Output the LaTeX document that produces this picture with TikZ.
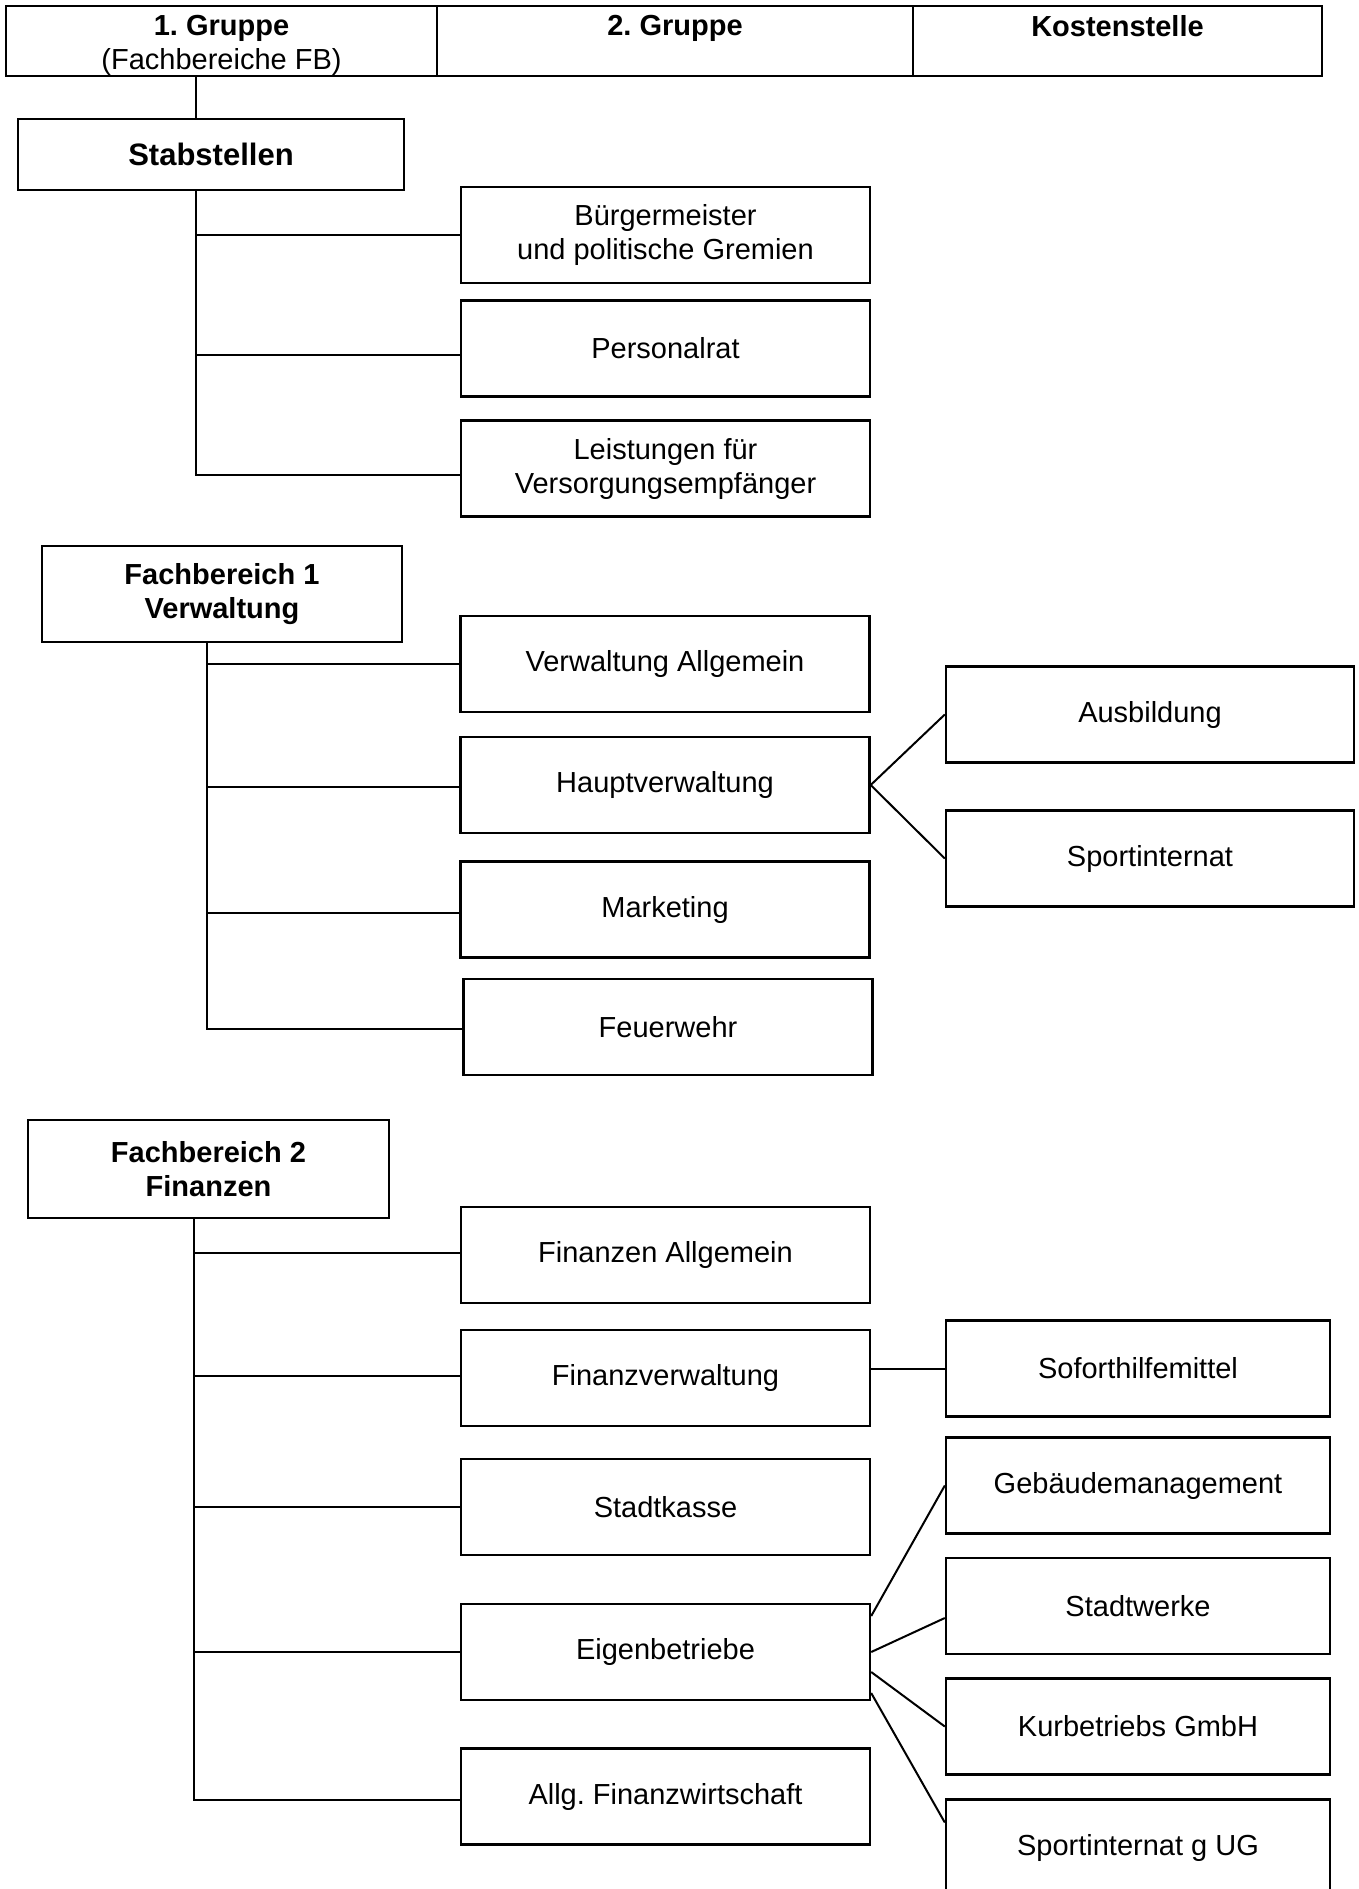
\documentclass[tikz,border=0pt]{standalone}
\usepackage{fontspec}
\setmainfont{Liberation Sans}
\frenchspacing

\begin{document}
\begin{tikzpicture}[x=1pt,y=1pt,
	box/.style={draw,line width=2.4pt,minimum width=409pt,minimum height=96pt,inner sep=0pt,align=center,font=\fontsize{29}{34}\selectfont},
	fb/.style={box,font=\fontsize{29}{34}\selectfont\bfseries},
	cell/.style={draw,line width=2pt,minimum height=70pt,inner sep=0pt},
	head/.style={font=\fontsize{29}{34}\selectfont,align=center,anchor=north,inner sep=0pt,yshift=-10pt},
	link/.style={line width=2pt}]
	\useasboundingbox (0,0) rectangle (1359,-1889);

	\node[cell,minimum width=431pt,label={[head]north:{\textbf{1. Gruppe}\\(Fachbereiche FB)}}] (g1) at (221.5,-41) {};
	\node[cell,minimum width=476pt,label={[head]north:{\textbf{2. Gruppe}}}] (g2) at (675,-41) {};
	\node[cell,minimum width=409pt,label={[head]north:{\textbf{Kostenstelle}}}] (ks) at (1117.5,-41) {};

	\node[fb,minimum width=386pt,minimum height=71pt,font=\fontsize{31}{36}\selectfont\bfseries] (stab) at (211,-154.5) {Stabstellen};
	\node[box] (bgm) at (665.5,-235) {Bürgermeister\\und politische Gremien};
	\node[box] (prat) at (665.5,-348.5) {Personalrat};
	\node[box] (leist) at (665.5,-468.5) {Leistungen für\\Versorgungsempfänger};

	\node[fb,minimum width=360pt] (fb1) at (222,-594) {Fachbereich 1\\Verwaltung};
	\node[box] (vallg) at (665,-664) {Verwaltung Allgemein};
	\node[box] (hptv) at (665,-785) {Hauptverwaltung};
	\node[box] (mark) at (665,-909.5) {Marketing};
	\node[box] (feuer) at (668,-1027) {Feuerwehr};
	\node[box,minimum width=408pt] (ausb) at (1150,-714.5) {Ausbildung};
	\node[box,minimum width=408pt] (sport) at (1150,-858.5) {Sportinternat};

	\node[fb,minimum width=361pt,minimum height=98pt] (fb2) at (208.5,-1169) {Fachbereich 2\\Finanzen};
	\node[box] (finallg) at (665.5,-1255) {Finanzen Allgemein};
	\node[box] (finverw) at (665.5,-1378) {Finanzverwaltung};
	\node[box] (kasse) at (665.5,-1507) {Stadtkasse};
	\node[box] (eigen) at (665.5,-1652) {Eigenbetriebe};
	\node[box] (allgfw) at (665.5,-1796.5) {Allg. Finanzwirtschaft};
	\node[box,minimum width=384pt] (sofort) at (1138,-1368.5) {Soforthilfemittel};
	\node[box,minimum width=384pt] (gebm) at (1138,-1485.5) {Gebäudemanagement};
	\node[box,minimum width=384pt] (stwerke) at (1138,-1606) {Stadtwerke};
	\node[box,minimum width=384pt] (kurb) at (1138,-1726.5) {Kurbetriebs GmbH};
	\node[box,minimum width=384pt] (spug) at (1138,-1847.5) {Sportinternat g UG};

	\coordinate (top) at (196,-76);
	\draw[link] (top) -- (top |- stab.north);
	\foreach \n/\d in {bgm/0,prat/-6,leist/-6}
		\draw[link] ([xshift=-15pt]stab.south) |- ([yshift=\d pt]\n.west);
	\foreach \n/\d in {vallg/0,hptv/-2,mark/-3,feuer/-2}
		\draw[link] ([xshift=-15pt]fb1.south) |- ([yshift=\d pt]\n.west);
	\foreach \n/\d in {finallg/2,finverw/2,kasse/0,eigen/0,allgfw/-3}
		\draw[link] ([xshift=-15pt]fb2.south) |- ([yshift=\d pt]\n.west);

	\path[link] (hptv.east) edge (ausb.west)
	(hptv.east) edge (sport.west)
	(sofort.west) edge (sofort.west -| finverw.east)
	([yshift=36pt]eigen.east) edge (gebm.west)
	(eigen.east) edge ([yshift=-12pt]stwerke.west)
	([yshift=-20pt]eigen.east) edge (kurb.west)
	([yshift=-41pt]eigen.east) edge ([yshift=25pt]spug.west)
	;
\end{tikzpicture}
\end{document}
